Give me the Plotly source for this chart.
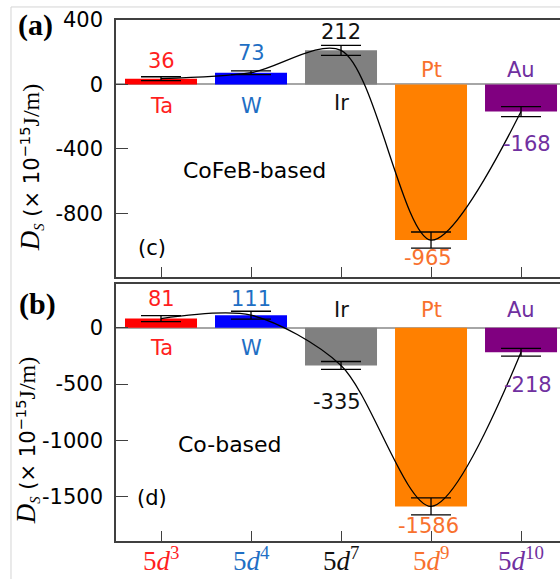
import plotly.graph_objects as go

# ---------------- data ----------------
elements = ["Ta", "W", "Ir", "Pt", "Au"]
configs = ["3", "4", "7", "9", "10"]
cofeb_vals = [36, 73, 212, -965, -168]
cofeb_err = [12, 12, 31, 50, 31]
co_vals = [81, 111, -335, -1586, -218]
co_err = [27, 35, 35, 75, 35]
top_ticks = [400, 0, -400, -800]
bot_ticks = [0, -500, -1000, -1500]

bar_colors = ["#ff0000", "#0000ff", "#808080", "#ff8000", "#800080"]
text_colors = ["#ff1f1f", "#1f6fc4", "#111111", "#f8712e", "#7030a0"]

SANS = "DejaVu Sans"
SERIF = "Liberation Serif"
xs = list(range(len(elements)))

fig = go.Figure()

def add_panel(vals, errs, xa, ya):
    fig.add_trace(go.Bar(
        x=xs, y=vals, width=0.8, marker=dict(color=bar_colors, line=dict(width=0)),
        xaxis=xa, yaxis=ya, showlegend=False, hoverinfo="skip"))
    fig.add_trace(go.Scatter(
        x=xs, y=vals, mode="lines", line=dict(color="black", width=1.3, shape="spline", smoothing=0.85),
        xaxis=xa, yaxis=ya, showlegend=False, hoverinfo="skip"))
    fig.add_trace(go.Scatter(
        x=xs, y=vals, mode="markers", marker=dict(size=1, color="rgba(0,0,0,0)"),
        error_y=dict(type="data", array=errs, visible=True, color="black", thickness=1.3, width=20),
        xaxis=xa, yaxis=ya, showlegend=False, hoverinfo="skip"))

add_panel(cofeb_vals, cofeb_err, "x", "y")
add_panel(co_vals, co_err, "x2", "y2")

axis_line = "#404040"
common_x = dict(range=[-0.5, 4.433], tickmode="array", tickvals=xs, ticks="inside", ticklen=10,
                tickcolor=axis_line, tickwidth=1.3, showline=True, linecolor=axis_line, linewidth=1.5,
                mirror=True, showgrid=False, zeroline=False, fixedrange=True, showticklabels=False)
common_y = dict(ticks="inside", ticklen=12, tickcolor=axis_line, tickwidth=1.3, showline=True,
                linecolor=axis_line, linewidth=1.5, showgrid=False, zeroline=True,
                zerolinecolor="#a6a6a6", zerolinewidth=1.5, tickfont=dict(family=SANS, size=21, color="black"),
                ticklabelstandoff=7, tickmode="array")

fig.update_layout(
    width=560, height=579,
    margin=dict(l=116, r=0, t=20, b=38),
    paper_bgcolor="white", plot_bgcolor="white",
    bargap=0.2,
    xaxis=dict(common_x, anchor="y", domain=[0, 1]),
    yaxis=dict(common_y, anchor="x", domain=[0.5067, 1], range=[-1194, 400],
               tickvals=top_ticks, ticktext=[str(t) if t >= 0 else "-" + str(-t) for t in top_ticks]),
    xaxis2=dict(common_x, anchor="y2", domain=[0, 1]),
    yaxis2=dict(common_y, anchor="x2", domain=[0, 0.4933], range=[-1893, 388],
                tickvals=bot_ticks, ticktext=[str(t) if t >= 0 else "-" + str(-t) for t in bot_ticks]),
)

ann = []
def lab(text, x, y, xr, yr, color, size=21, yshift=0, xshift=0, family=SANS):
    ann.append(dict(text=text, x=x, y=y, xref=xr, yref=yr, showarrow=False,
                    font=dict(family=family, size=size, color=color),
                    xanchor="center", yanchor="middle", yshift=yshift, xshift=xshift))

# top panel value labels
top_val_shift = [(0, 18), (0, 20), (0, 18), (-3, -18), (6, -32)]
for i, v in enumerate(cofeb_vals):
    dx, dy = top_val_shift[i]
    lab(str(v), i, v, "x", "y", text_colors[i], yshift=dy, xshift=dx)
top_name_shift = [-22, -22, -19, 14, 14]
for i, n in enumerate(elements):
    lab(n, i, 0, "x", "y", text_colors[i], yshift=top_name_shift[i])

# bottom panel value labels
bot_val_shift = [(0, 20), (0, 16), (-4, -37), (-3, -20), (7, -33)]
for i, v in enumerate(co_vals):
    dx, dy = bot_val_shift[i]
    lab(str(v), i, v, "x2", "y2", text_colors[i], yshift=dy, xshift=dx)
bot_name_shift = [-20, -20, 18, 18, 18]
for i, n in enumerate(elements):
    lab(n, i, 0, "x2", "y2", text_colors[i], yshift=bot_name_shift[i])

# category (electron configuration) labels under the bottom panel
for i, k in enumerate(configs):
    lab(f"5<i>d</i><sup>{k}</sup>", i, 0, "x2", "y2 domain", text_colors[i], size=27,
        yshift=-18, family=SERIF)

# panel texts
lab("CoFeB-based", 0.311, 0.416, "x domain", "y domain", "black", size=22)
lab("(c)", 0.081, 0.113, "x domain", "y domain", "black", size=21)
lab("Co-based", 0.257, 0.374, "x2 domain", "y2 domain", "black", size=22)
lab("(d)", 0.081, 0.167, "x2 domain", "y2 domain", "black", size=21)

# panel letters
lab("<b>(a)</b>", -0.182, 0.990, "paper", "paper", "black", size=30, family=SERIF)
lab("<b>(b)</b>", -0.177, 0.455, "paper", "paper", "black", size=30, family=SERIF)

# y axis titles
ytitle = ('<span style="font-family:Liberation Serif;font-size:27px"><i>D</i></span>'
          '<sub><span style="font-family:Liberation Serif"><i>S</i></span></sub>'
          ' (× 10<sup>−15</sup><span style="font-family:Liberation Serif;font-size:24px">J/m)</span>')
for yy, xx in [(0.716, -0.191), (0.192, -0.200)]:
    ann.append(dict(text=ytitle, x=xx, y=yy, xref="paper", yref="paper", showarrow=False, textangle=-90,
                    font=dict(family=SANS, size=21, color="black"), xanchor="center", yanchor="middle"))

fig.update_layout(annotations=ann)

# thin outer frame (left and top)
fig.add_shape(type="line", xref="paper", yref="paper", x0=-0.2365, x1=1.0, y0=1.025, y1=1.025,
              line=dict(color="#d4d4d4", width=1))
fig.add_shape(type="line", xref="paper", yref="paper", x0=-0.2365, x1=-0.2365, y0=1.025, y1=-0.08,
              line=dict(color="#d4d4d4", width=1))

fig.write_html("out.html", config={"displayModeBar": False},
               post_script="document.body.style.margin='0';document.body.style.overflow='hidden';")
